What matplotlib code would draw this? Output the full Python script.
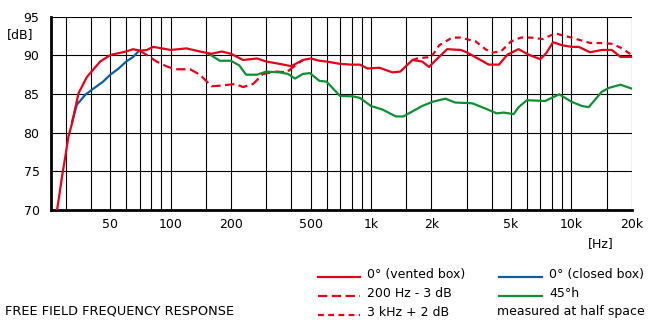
import matplotlib
matplotlib.use("Agg")
import matplotlib.pyplot as plt
import numpy as np

plt.rcParams['font.family'] = ['DejaVu Sans']

# 0° vented box (solid red)
vent_f = [27.1, 27.6, 28.7, 29.8, 30.9, 32.2, 34.7, 38.2, 44.5, 50, 60, 65, 70, 76, 82, 100, 120, 140,
          160, 180, 200, 230, 270, 300, 350, 400, 457, 500, 553, 600, 700, 800, 880, 960, 1100, 1280,
          1400, 1610, 1800, 1950, 2070, 2400, 2800, 3000, 3870, 4350, 4800, 5450, 6100, 7000, 7500,
          8100, 9000, 10000, 10870, 12400, 14200, 15900, 17600, 20000]
vent_db = [70.0, 71.3, 74.3, 76.9, 79.5, 81.2, 85.1, 87.2, 89.2, 90.05, 90.5, 90.8, 90.6, 90.7, 91.1,
           90.7, 90.9, 90.5, 90.2, 90.5, 90.2, 89.4, 89.6, 89.2, 88.9, 88.6, 89.4, 89.6, 89.3, 89.2,
           88.9, 88.8, 88.8, 88.3, 88.4, 87.8, 87.9, 89.4, 89.2, 88.5, 89.2, 90.8, 90.7, 90.4, 88.8,
           88.8, 90.1, 90.8, 90.1, 89.5, 90.3, 91.7, 91.3, 91.1, 91.1, 90.4, 90.7, 90.7, 89.8, 89.8]

# 200 Hz - 3 dB (dashed red)
lo_f = [70, 76, 85, 95, 105, 125, 140, 160, 180, 210, 230, 258, 289, 337, 380, 400, 457]
lo_db = [90.6, 90.05, 89.2, 88.6, 88.2, 88.2, 87.5, 86.0, 86.1, 86.3, 85.9, 86.3, 87.6, 87.9, 87.8,
         88.3, 89.4]

# 3 kHz + 2 dB (fine dashed red)
hi_f = [1610, 1700, 2000, 2190, 2540, 2800, 3330, 3720, 4000, 4450, 5000, 5600, 6300, 7200, 8300,
        9000, 10000, 11300, 12400, 14000, 15900, 17600, 19600, 20000]
hi_db = [89.4, 89.6, 89.8, 91.3, 92.3, 92.3, 91.8, 90.8, 90.35, 90.5, 91.8, 92.3, 92.3, 92.1, 92.85,
         92.6, 92.3, 91.9, 91.6, 91.6, 91.5, 91.0, 90.2, 90.0]

# 0° closed box (blue)
closed_f = [32.2, 34, 37.5, 41.2, 46, 50, 55, 60, 65, 69, 70]
closed_db = [81.4, 83.6, 84.9, 85.7, 86.6, 87.5, 88.3, 89.2, 89.8, 90.5, 90.6]

# 45°h (green)
off_f = [155, 176, 200, 220, 238, 270, 300, 350, 385, 418, 457, 495, 553, 600, 700, 810, 880, 1000,
         1140, 1330, 1450, 1800, 2030, 2350, 2630, 3200, 3700, 4240, 4600, 5150, 5450, 6000, 7400,
         8700, 10000, 11300, 12200, 14200, 15400, 17600, 20000]
off_db = [90.2, 89.3, 89.3, 88.7, 87.5, 87.5, 87.9, 87.8, 87.6, 87.0, 87.6, 87.7, 86.7, 86.6, 84.75,
          84.7, 84.5, 83.45, 83.0, 82.1, 82.1, 83.45, 84.0, 84.4, 83.9, 83.8, 83.15, 82.5, 82.6, 82.4,
          83.3, 84.2, 84.1, 84.96, 84.0, 83.45, 83.3, 85.3, 85.8, 86.2, 85.7]

x_ticks = [50, 100, 200, 500, 1000, 2000, 5000, 10000, 20000]
x_tick_labels = ['50', '100', '200', '500', '1k', '2k', '5k', '10k', '20k']
x_grid = [30, 40, 50, 60, 70, 80, 90, 100, 150, 200, 300, 400, 500, 600, 700, 800, 900, 1000,
          1500, 2000, 3000, 4000, 5000, 6000, 7000, 8000, 9000, 10000, 15000, 20000]
y_ticks = [70, 75, 80, 85, 90, 95]

RED = '#e3001b'
BLUE = '#0a5fa0'
GREEN = '#108f33'

W, H = 653, 324
fig = plt.figure(figsize=(W / 100, H / 100), dpi=100)
ax = fig.add_axes([50.7 / W, 1 - 210 / H, (631.7 - 50.7) / W, (210 - 16.7) / H])
ax.set_xscale('log')
ax.set_xlim(25.2, 20000)
ax.set_ylim(70, 95)

for g in x_grid:
    ax.axvline(g, color='black', lw=0.8, zorder=1)
for g in y_ticks:
    ax.axhline(g, color='black', lw=0.8, zorder=1)

lw = 1.6
ax.plot(lo_f, lo_db, color=RED, lw=lw, dashes=(4.2, 2.0), zorder=3)
ax.plot(hi_f, hi_db, color=RED, lw=lw, dashes=(2.6, 2.0), zorder=3)
ax.plot(off_f, off_db, color=GREEN, lw=lw, zorder=3)
ax.plot(closed_f, closed_db, color=BLUE, lw=lw, zorder=3)
ax.plot(vent_f, vent_db, color=RED, lw=lw, zorder=4)

ax.xaxis.set_minor_locator(matplotlib.ticker.NullLocator())
ax.set_xticks(x_ticks)
ax.set_xticklabels(x_tick_labels)
ax.set_yticks(y_ticks)
ax.tick_params(axis='both', length=0, labelsize=9, colors='black')
ax.tick_params(axis='x', pad=6)
ax.tick_params(axis='y', pad=8)

for s in ['top', 'right']:
    ax.spines[s].set_visible(False)
ax.spines['left'].set_linewidth(2.0)
ax.spines['bottom'].set_linewidth(2.0)

fig.text(6.5 / W, 1 - 35 / H, '[dB]', fontsize=9, ha='left', va='center')
fig.text(601 / W, 1 - 244 / H, '[Hz]', fontsize=9, ha='center', va='center')
fig.text(5 / W, 1 - 311 / H, 'FREE FIELD FREQUENCY RESPONSE', fontsize=9.3, ha='left', va='center')

# legend
rows_y = [276.7, 295.7, 314.5]
col1_line = (318, 360)
col2_line = (499, 542)
legend_items = [
    (col1_line, rows_y[0], dict(color=RED), '0° (vented box)'),
    (col1_line, rows_y[1], dict(color=RED, dashes=(4.2, 2.0)), '200 Hz - 3 dB'),
    (col1_line, rows_y[2], dict(color=RED, dashes=(2.6, 2.0)), '3 kHz + 2 dB'),
    (col2_line, rows_y[0], dict(color=BLUE), '0° (closed box)'),
    (col2_line, rows_y[1], dict(color=GREEN), '45°h'),
]
for (x0, x1), yy, style, label in legend_items:
    fig.add_artist(matplotlib.lines.Line2D([x0 / W, x1 / W], [1 - yy / H, 1 - yy / H], lw=lw, **style))
    fig.text((x1 + 7) / W, 1 - (yy - 2.5) / H, label, fontsize=9, ha='left', va='center')
fig.text(497 / W, 1 - 312 / H, 'measured at half space', fontsize=9, ha='left', va='center')

fig.savefig('out.png', dpi=100)
